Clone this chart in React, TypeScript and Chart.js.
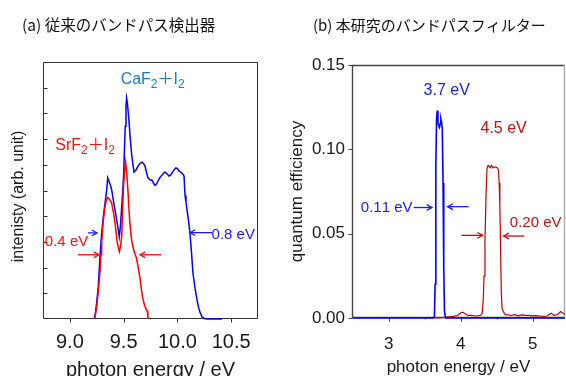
import React, { useEffect, useRef } from "react";
import { Chart, registerables } from "chart.js";

Chart.register(...registerables);

const SANS = "'Liberation Sans', Arial, sans-serif";
const CJK = "'Noto Sans CJK JP', 'Liberation Sans', sans-serif";

// ---------------- Panel (a) ----------------
const A_TITLE = "(a) 従来のバンドパス検出器";
const A_X_TITLE = "photon energy / eV";
const A_Y_TITLE = "intenisty (arb. unit)";
const A_X_TICKS = [9.0, 9.5, 10.0, 10.5];
const A_Y_TICKS = [0, 1, 2, 3, 4, 5, 6, 7, 8, 9, 10];

const A_SRF2_ENERGY = [9.232, 9.24, 9.25, 9.259, 9.27, 9.28, 9.29, 9.296, 9.31, 9.327, 9.34, 9.352, 9.365, 9.378, 9.389, 9.405, 9.42, 9.441, 9.46, 9.472, 9.482, 9.49, 9.497, 9.508, 9.519, 9.53, 9.54, 9.548, 9.557, 9.57, 9.585, 9.6, 9.62, 9.636, 9.652, 9.664, 9.676, 9.69, 9.704, 9.715, 9.722, 9.726];
const A_SRF2_INTENSITY = [0, 0.23, 0.5, 0.87, 1.35, 1.84, 2.5, 2.96, 3.8, 4.37, 4.65, 4.73, 4.68, 4.6, 4.5, 4.15, 3.74, 2.96, 2.62, 2.85, 3.2, 4.1, 5.0, 5.7, 6.1, 5.6, 5.0, 4.4, 3.8, 3.2, 2.84, 2.6, 2.37, 2.0, 1.6, 1.2, 0.85, 0.6, 0.43, 0.34, 0.3, 0];

const A_CAF2_ENERGY = [9.227, 9.238, 9.249, 9.264, 9.28, 9.296, 9.312, 9.327, 9.342, 9.352, 9.365, 9.378, 9.39, 9.404, 9.422, 9.441, 9.46, 9.472, 9.482, 9.492, 9.5, 9.506, 9.515, 9.522, 9.528, 9.535, 9.55, 9.562, 9.575, 9.587, 9.597, 9.615, 9.634, 9.652, 9.671, 9.685, 9.699, 9.713, 9.727, 9.745, 9.764, 9.778, 9.792, 9.806, 9.82, 9.834, 9.848, 9.866, 9.885, 9.903, 9.922, 9.936, 9.95, 9.968, 9.987, 10.001, 10.015, 10.029, 10.043, 10.053, 10.062, 10.071, 10.08, 10.09, 10.103, 10.117, 10.131, 10.145, 10.164, 10.183, 10.197, 10.21, 10.229, 10.25, 10.276, 10.35, 10.415];
const A_CAF2_INTENSITY = [0, 0.25, 0.62, 1.25, 2.41, 3.35, 4.0, 4.51, 5.0, 5.49, 5.35, 5.2, 5.0, 4.63, 4.2, 3.72, 3.2, 3.7, 4.37, 5.0, 5.6, 6.4, 7.5, 8.3, 8.6, 8.4, 7.7, 7.0, 6.4, 6.0, 5.72, 5.8, 5.95, 6.05, 6.1, 6.05, 5.95, 5.7, 5.49, 5.42, 5.4, 5.28, 5.2, 5.25, 5.37, 5.48, 5.56, 5.64, 5.72, 5.65, 5.56, 5.6, 5.68, 5.8, 5.88, 5.85, 5.76, 5.72, 5.68, 5.62, 5.56, 4.82, 4.55, 4.24, 3.85, 3.35, 2.6, 1.79, 1.2, 0.74, 0.45, 0.27, 0.08, 0.02, 0, 0, 0];

// annotations of panel (a), in data coordinates
const A_LABELS = [
  { text: "CaF_2＋I_2", x: 9.77, y: 9.13, color: "#1e78d0", size: 16 },
  { text: "SrF_2＋I_2", x: 9.141, y: 6.58, color: "#ff1010", size: 16 },
  { text: "0.4 eV", x: 8.969, y: 2.84, color: "#ff1010", size: 15 },
  { text: "0.8 eV", x: 10.52, y: 3.11, color: "#1a1aff", size: 15 },
];
const A_ARROWS = [
  { x1: 9.169, y1: 3.35, x2: 9.253, y2: 3.35, color: "#1a1aff" },
  { x1: 9.076, y1: 2.5, x2: 9.271, y2: 2.5, color: "#ff1010" },
  { x1: 9.848, y1: 2.5, x2: 9.652, y2: 2.5, color: "#ff1010" },
  { x1: 10.322, y1: 3.36, x2: 10.117, y2: 3.36, color: "#1a1aff" },
];

// ---------------- Panel (b) ----------------
const B_TITLE = "(b) 本研究のバンドパスフィルター";
const B_X_TITLE = "photon energy / eV";
const B_Y_TITLE = "quantum efficiency";
const B_X_TICKS = [3, 3.5, 4, 4.5, 5];
const B_X_LABELED = [3, 4, 5];
const B_Y_TICKS = [0, 0.05, 0.1, 0.15];

const B_BLUE_ENERGY = [2.5, 3.6, 3.635, 3.645, 3.655, 3.665, 3.675, 3.685, 3.695, 3.705, 3.715, 3.725, 3.735, 3.745, 3.755, 3.765, 3.775, 3.79, 5.5];
const B_BLUE_QE = [0, 0, 0.0005, 0.02, 0.09, 0.118, 0.123, 0.116, 0.114, 0.113, 0.115, 0.118, 0.116, 0.112, 0.08, 0.03, 0.004, 0, 0];

const B_RED_ENERGY = [3.55, 3.62, 3.7, 3.8, 3.9, 3.96, 4.0, 4.03, 4.06, 4.1, 4.15, 4.2, 4.25, 4.28, 4.3, 4.315, 4.325, 4.338, 4.352, 4.365, 4.375, 4.39, 4.41, 4.43, 4.45, 4.47, 4.49, 4.51, 4.525, 4.535, 4.545, 4.555, 4.565, 4.575, 4.59, 4.62, 4.66, 4.7, 4.75, 4.8, 4.85, 4.9, 4.95, 5.0, 5.05, 5.1, 5.15, 5.2, 5.26, 5.3, 5.35, 5.39, 5.43, 5.5];
const B_RED_QE = [0, 0, 0, 0.0005, 0.001, 0.0015, 0.003, 0.0035, 0.0025, 0.0015, 0.0015, 0.0012, 0.0014, 0.0016, 0.003, 0.012, 0.025, 0.045, 0.072, 0.088, 0.09, 0.0905, 0.089, 0.0905, 0.089, 0.0895, 0.0895, 0.089, 0.088, 0.08, 0.066, 0.04, 0.015, 0.006, 0.004, 0.002, 0.0018, 0.0015, 0.002, 0.0013, 0.0018, 0.0016, 0.0015, 0.0013, 0.0014, 0.0012, 0.001, 0.0012, 0.0028, 0.0014, 0.0022, 0.0038, 0.0025, 0.002];

const B_LABELS = [
  { text: "3.7 eV", x: 3.806, y: 0.1321, color: "#1a1aff", size: 16 },
  { text: "4.5 eV", x: 4.597, y: 0.1095, color: "#c41010", size: 16 },
  { text: "0.11 eV", x: 2.972, y: 0.0631, color: "#1a1aff", size: 15 },
  { text: "0.20 eV", x: 5.042, y: 0.0542, color: "#c41010", size: 15 },
];
const B_ARROWS = [
  { x1: 3.347, y1: 0.0655, x2: 3.601, y2: 0.0655, color: "#1a1aff" },
  { x1: 4.111, y1: 0.066, x2: 3.819, y2: 0.066, color: "#1a1aff" },
  { x1: 4.01, y1: 0.049, x2: 4.306, y2: 0.049, color: "#c41010" },
  { x1: 4.885, y1: 0.0486, x2: 4.597, y2: 0.0486, color: "#c41010" },
];

// ---------------- drawing helpers ----------------
type TextItem = { text: string; x: number; y: number; color: string; size: number };
type ArrowItem = { x1: number; y1: number; x2: number; y2: number; color: string };
type Decor = {
  id: string;
  title: string;
  titleX: number;
  titleY: number;
  titleSize: number;
  yTitle?: { text: string; x: number; dy: number; size: number };
  frameColor: string;
  rightColor: string;
  frameWidth: number;
  xTicks: number[];
  xMajor: number[];
  xLen: number;
  xMinorLen: number;
  yTicks: number[];
  yLen: number;
  yInward: boolean;
  texts: TextItem[];
  arrows: ArrowItem[];
};

function drawRich(ctx: CanvasRenderingContext2D, text: string, cx: number, baseY: number, size: number, color: string) {
  const parts: { t: string; sub: boolean; cjk: boolean }[] = [];
  for (let i = 0; i < text.length; i++) {
    const ch = text[i];
    if (ch === "_" && i + 1 < text.length) {
      parts.push({ t: text[i + 1], sub: true, cjk: false });
      i++;
    } else parts.push({ t: ch, sub: false, cjk: ch === "＋" });
  }
  const fontOf = (p: { sub: boolean; cjk: boolean }) =>
    p.sub ? `${size * 0.75}px ${SANS}` : p.cjk ? `${size}px ${CJK}` : `${size}px ${SANS}`;
  let total = 0;
  const widths = parts.map((p) => {
    ctx.font = fontOf(p);
    const w = ctx.measureText(p.t).width;
    total += w;
    return w;
  });
  let x = cx - total / 2;
  ctx.fillStyle = color;
  ctx.textAlign = "left";
  ctx.textBaseline = "alphabetic";
  parts.forEach((p, i) => {
    ctx.font = fontOf(p);
    ctx.fillText(p.t, x, baseY + (p.sub ? size * 0.25 : 0));
    x += widths[i];
  });
}

function drawArrow(ctx: CanvasRenderingContext2D, x1: number, y1: number, x2: number, y2: number, color: string) {
  ctx.strokeStyle = color;
  ctx.lineWidth = 1.3;
  ctx.beginPath();
  ctx.moveTo(x1, y1);
  ctx.lineTo(x2, y2);
  ctx.stroke();
  const ang = Math.atan2(y2 - y1, x2 - x1);
  const h = 6;
  const s = 0.5;
  ctx.beginPath();
  ctx.moveTo(x2 - h * Math.cos(ang - s), y2 - h * Math.sin(ang - s));
  ctx.lineTo(x2, y2);
  ctx.lineTo(x2 - h * Math.cos(ang + s), y2 - h * Math.sin(ang + s));
  ctx.stroke();
}

function decorPlugin(d: Decor) {
  return {
    id: d.id,
    beforeDatasetsDraw(chart: any) {
      const { ctx, chartArea: a, scales } = chart;
      const xs = scales.x;
      const ys = scales.y;
      const L = Math.round(a.left) + 0.5;
      const R = Math.round(a.right) - 0.5;
      const T = Math.round(a.top) + 0.5;
      const B = Math.round(a.bottom) - 0.5;
      ctx.save();
      ctx.lineWidth = d.frameWidth;
      ctx.strokeStyle = d.frameColor;
      ctx.beginPath();
      ctx.moveTo(R, T);
      ctx.lineTo(L, T);
      ctx.lineTo(L, B);
      ctx.lineTo(R, B);
      ctx.stroke();
      ctx.strokeStyle = d.rightColor;
      ctx.beginPath();
      ctx.moveTo(R, T);
      ctx.lineTo(R, B);
      ctx.stroke();
      ctx.strokeStyle = d.frameColor;
      ctx.lineWidth = 1;
      d.xTicks.forEach((v) => {
        const px = Math.round(xs.getPixelForValue(v)) + 0.5;
        const len = d.xMajor.includes(v) ? d.xLen : d.xMinorLen;
        ctx.beginPath();
        ctx.moveTo(px, B);
        ctx.lineTo(px, B + len);
        ctx.stroke();
      });
      d.yTicks.forEach((v) => {
        const py = Math.round(ys.getPixelForValue(v)) + 0.5;
        ctx.beginPath();
        ctx.moveTo(L, py);
        ctx.lineTo(d.yInward ? L + d.yLen : L - d.yLen, py);
        ctx.stroke();
      });
      ctx.restore();
    },
    afterDraw(chart: any) {
      const { ctx, scales, chartArea: a } = chart;
      const xs = scales.x;
      const ys = scales.y;
      ctx.save();
      ctx.font = `${d.titleSize}px ${CJK}`;
      ctx.fillStyle = "#111";
      ctx.textAlign = "left";
      ctx.textBaseline = "middle";
      ctx.fillText(d.title, d.titleX, d.titleY);
      if (d.yTitle) {
        ctx.save();
        ctx.translate(d.yTitle.x, (a.top + a.bottom) / 2 + d.yTitle.dy);
        ctx.rotate(-Math.PI / 2);
        ctx.font = `${d.yTitle.size}px ${SANS}`;
        ctx.fillStyle = "#1a1a1a";
        ctx.textAlign = "center";
        ctx.textBaseline = "middle";
        ctx.fillText(d.yTitle.text, 0, 0);
        ctx.restore();
      }
      d.texts.forEach((t) => {
        drawRich(ctx, t.text, xs.getPixelForValue(t.x), ys.getPixelForValue(t.y), t.size, t.color);
      });
      d.arrows.forEach((ar) => {
        drawArrow(
          ctx,
          xs.getPixelForValue(ar.x1),
          ys.getPixelForValue(ar.y1),
          xs.getPixelForValue(ar.x2),
          ys.getPixelForValue(ar.y2),
          ar.color
        );
      });
      ctx.restore();
    },
  };
}

const toPoints = (xs: number[], ys: number[]) => xs.map((x, i) => ({ x, y: ys[i] }));
const LINE_CLIP = { left: 2, top: 2, right: 0, bottom: 4 };

function buildA(): any {
  return {
    type: "line",
    data: {
      datasets: [
        { label: "SrF2+I2", data: toPoints(A_SRF2_ENERGY, A_SRF2_INTENSITY), borderColor: "#ff0000", borderWidth: 1.5, pointRadius: 0, tension: 0, fill: false, clip: LINE_CLIP },
        { label: "CaF2+I2", data: toPoints(A_CAF2_ENERGY, A_CAF2_INTENSITY), borderColor: "#0000ff", borderWidth: 1.5, pointRadius: 0, tension: 0, fill: false, clip: LINE_CLIP },
      ],
    },
    options: {
      responsive: false,
      animation: false,
      devicePixelRatio: 1,
      layout: { padding: { top: 62, right: 25, left: 0, bottom: 0 } },
      plugins: { legend: { display: false }, tooltip: { enabled: false } },
      scales: {
        x: {
          type: "linear",
          min: 8.75,
          max: 10.75,
          grid: { display: false, drawTicks: false },
          border: { display: false },
          afterBuildTicks: (s: any) => { s.ticks = A_X_TICKS.map((v) => ({ value: v })); },
          afterFit: (s: any) => { s.height = 65; },
          ticks: { callback: (v: any) => Number(v).toFixed(1), font: { size: 20, family: SANS }, color: "#1a1a1a", padding: 11, maxRotation: 0, autoSkip: false },
          title: { display: true, text: A_X_TITLE, font: { size: 20, family: SANS }, color: "#1a1a1a", padding: { top: 0, bottom: 2 } },
        },
        y: {
          type: "linear",
          min: 0,
          max: 10,
          grid: { display: false, drawTicks: false },
          border: { display: false },
          afterBuildTicks: (s: any) => { s.ticks = A_Y_TICKS.map((v) => ({ value: v })); },
          afterFit: (s: any) => { s.width = 43; },
          ticks: { display: false },
          title: { display: false, text: A_Y_TITLE },
        },
      },
    },
    plugins: [
      decorPlugin({
        id: "decorA",
        title: A_TITLE,
        titleX: 22,
        titleY: 25.5,
        titleSize: 15.5,
        yTitle: { text: A_Y_TITLE, x: 19, dy: 6, size: 16 },
        frameColor: "#333",
        rightColor: "#333",
        frameWidth: 1,
        xTicks: A_X_TICKS,
        xMajor: A_X_TICKS,
        xLen: 4,
        xMinorLen: 4,
        yTicks: A_Y_TICKS.slice(1, -1),
        yLen: 4,
        yInward: true,
        texts: A_LABELS,
        arrows: A_ARROWS,
      }),
    ],
  };
}

function buildB(): any {
  return {
    type: "line",
    data: {
      datasets: [
        { label: "3.7 eV", data: toPoints(B_BLUE_ENERGY, B_BLUE_QE), borderColor: "#0000ff", borderWidth: 1.6, pointRadius: 0, tension: 0, fill: false, clip: LINE_CLIP },
        { label: "4.5 eV", data: toPoints(B_RED_ENERGY, B_RED_QE), borderColor: "#c00000", borderWidth: 1.2, pointRadius: 0, tension: 0, fill: false, clip: LINE_CLIP },
      ],
    },
    options: {
      responsive: false,
      animation: false,
      devicePixelRatio: 1,
      layout: { padding: { top: 65, right: 1, left: 0, bottom: 0 } },
      plugins: { legend: { display: false }, tooltip: { enabled: false } },
      scales: {
        x: {
          type: "linear",
          min: 2.49,
          max: 5.45,
          grid: { display: false, drawTicks: false },
          border: { display: false },
          afterBuildTicks: (s: any) => { s.ticks = B_X_TICKS.map((v) => ({ value: v })); },
          afterFit: (s: any) => { s.height = 58; },
          ticks: { callback: (v: any) => (B_X_LABELED.includes(Number(v)) ? String(v) : ""), font: { size: 17, family: SANS }, color: "#1a1a1a", padding: 16, maxRotation: 0, autoSkip: false },
          title: { display: true, text: B_X_TITLE, font: { size: 17, family: SANS }, color: "#1a1a1a", padding: { top: 0, bottom: -2 } },
        },
        y: {
          type: "linear",
          min: 0,
          max: 0.15,
          grid: { display: false, drawTicks: false },
          border: { display: false },
          afterBuildTicks: (s: any) => { s.ticks = B_Y_TICKS.map((v) => ({ value: v })); },
          afterFit: (s: any) => { s.width = 69; },
          ticks: { callback: (v: any) => Number(v).toFixed(2), font: { size: 17, family: SANS }, color: "#1a1a1a", padding: 7, autoSkip: false },
          title: { display: true, text: B_Y_TITLE, font: { size: 17, family: SANS }, color: "#1a1a1a", padding: { top: 4, bottom: 0 } },
        },
      },
    },
    plugins: [
      decorPlugin({
        id: "decorB",
        title: B_TITLE,
        titleX: 30,
        titleY: 25.5,
        titleSize: 15,
        frameColor: "#444",
        rightColor: "#aaa",
        frameWidth: 1.4,
        xTicks: B_X_TICKS,
        xMajor: B_X_LABELED,
        xLen: 4,
        xMinorLen: 2,
        yTicks: B_Y_TICKS,
        yLen: 4,
        yInward: false,
        texts: B_LABELS,
        arrows: B_ARROWS,
      }),
    ],
  };
}

function Panel({ build, left, width, height }: { build: () => any; left: number; width: number; height: number }) {
  const ref = useRef<HTMLCanvasElement | null>(null);
  useEffect(() => {
    if (!ref.current) return;
    const chart = new Chart(ref.current, build());
    return () => chart.destroy();
  }, [build]);
  return (
    <canvas
      ref={ref}
      width={width}
      height={height}
      style={{ position: "absolute", left, top: 0, width, height, display: "block" }}
    />
  );
}

export default function App() {
  return (
    <div
      style={{
        position: "fixed",
        left: 0,
        top: 0,
        width: 566,
        height: 376,
        overflow: "hidden",
        background: "#ffffff",
      }}
    >
      <Panel build={buildA} left={0} width={283} height={384} />
      <Panel build={buildB} left={283} width={283} height={376} />
    </div>
  );
}
